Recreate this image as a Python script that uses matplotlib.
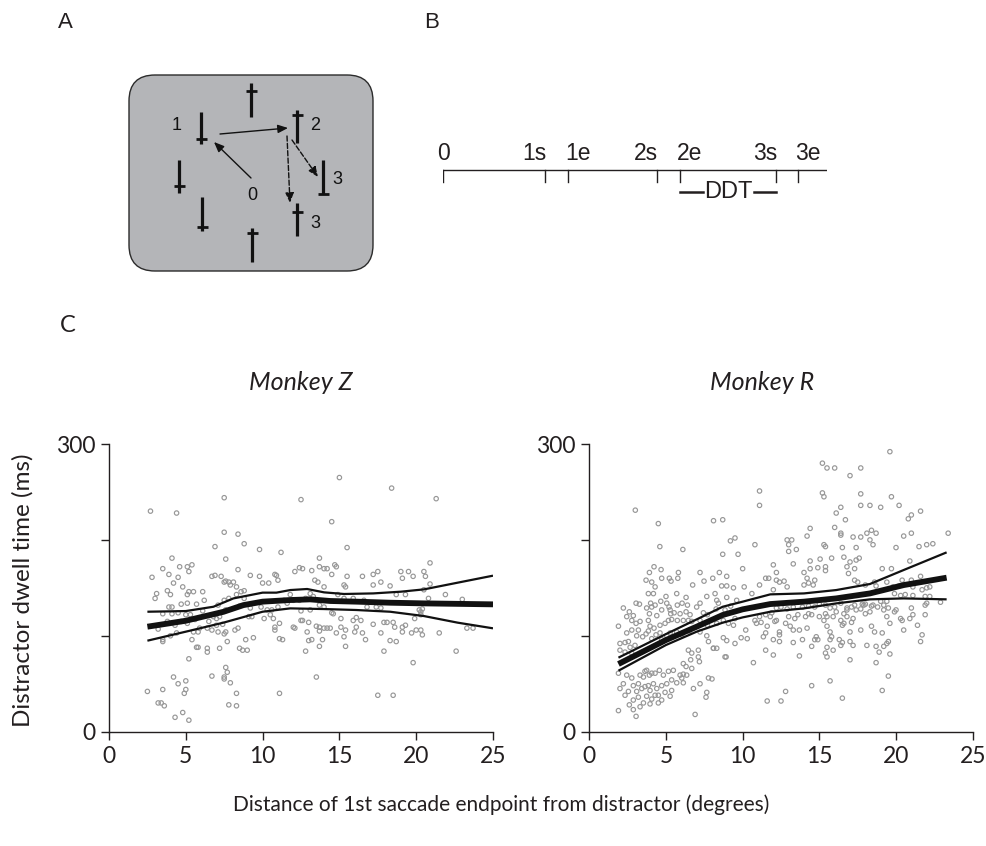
import matplotlib
matplotlib.use("Agg")
import matplotlib.pyplot as plt
from matplotlib.patches import FancyBboxPatch
import numpy as np

# ---------------- data ----------------
# Monkey Z: (distance deg, dwell ms)
monkey_z_points = [
    (2.7,230),(4.4,228),(7.5,244),(12.5,242),(15.0,265),(18.4,254),(21.3,243),(14.5,219),
    (7.5,208),(8.4,206),(8.8,196),(6.9,193),(9.8,190),(11.2,187),(15.5,192),(4.1,181),(7.6,180),(13.7,181),
    (3.5,170),(3.9,164),(2.8,161),(4.2,155),(4.5,161),(4.6,172),(5.2,167),(5.4,174),(5.1,172),(4.8,151),
    (5.2,146),(5.1,143),(5.5,146),(6.1,146),(3.8,147),(4.0,143),(3.0,139),(3.1,144),(4.1,130),(3.9,130),
    (4.7,133),(5.1,134),(5.7,133),(6.2,137),(3.5,123),(4.1,123),(4.5,124),(5.0,122),(5.3,122),(3.8,115),
    (4.3,111),(4.7,115),(5.1,113),(5.6,117),(6.1,126),(6.5,115),(6.8,120),(7.0,111),(7.2,120),(7.6,127),
    (7.8,156),(7.6,157),(7.9,153),(8.1,156),(8.3,151),(6.7,162),(6.9,163),(7.3,162),(7.5,156),(8.4,169),
    (8.6,146),(8.8,147),(9.2,163),(9.8,162),(10.0,155),(10.4,155),(10.8,164),(10.9,163),(11.0,158),(12.1,167),
    (12.4,171),(12.6,170),(13.2,168),(13.7,172),(14.0,170),(14.2,170),(14.5,164),(14.7,174),(14.8,172),(15.5,162),
    (16.5,162),(17.2,164),(17.5,167),(17.2,153),(17.7,156),(18.3,152),(19.0,167),(19.1,160),(19.5,167),(19.8,162),
    (20.5,167),(20.6,162),(20.9,176),(20.9,154),(21.9,143),(23.0,138),(20.5,148),(18.7,143),(19.3,143),(20.8,139),
    (20.2,127),(20.3,125),(16.8,130),(16.6,137),(15.9,139),(15.3,139),(14.9,143),(15.4,151),(15.3,153),(14.0,151),
    (13.6,156),(13.4,158),(13.1,144),(13.3,141),(12.8,139),(11.8,143),(12.0,137),(11.6,134),(11.0,130),(10.5,122),
    (10.7,118),(10.1,118),(9.9,130),(9.3,120),(9.1,120),(9.2,129),(8.8,139),(8.5,131),(8.3,143),(7.8,139),
    (7.5,137),(7.1,132),(7.0,118),(7.4,112),(7.6,104),(7.5,102),(7.1,104),(6.7,106),(6.4,108),(5.9,108),
    (5.8,104),(5.5,104),(4.4,103),(4.0,100),(3.5,96),(3.5,94),(3.2,107),(5.4,96),(5.7,88),(5.8,88),
    (6.4,87),(6.4,83),(7.2,87),(7.7,94),(8.2,106),(8.4,108),(8.7,85),(9.0,85),(8.5,87),(8.9,96),
    (9.4,98),(11.1,113),(11.1,97),(11.3,96),(10.8,106),(10.8,109),(12.0,109),(12.1,108),(12.5,116),(12.6,116),
    (13.0,114),(12.9,104),(13.0,95),(13.2,96),(12.8,84),(13.5,110),(13.7,109),(13.7,105),(13.7,89),(13.9,96),
    (14.0,108),(14.2,108),(14.4,108),(14.8,103),(15.1,109),(15.1,118),(15.4,106),(15.4,89),(15.3,99),(15.9,116),
    (16.1,109),(16.0,104),(16.4,116),(16.5,103),(16.7,96),(17.2,112),(17.4,130),(17.7,103),(17.9,114),(18.1,114),
    (18.3,95),(18.5,114),(18.6,109),(18.7,94),(19.1,109),(19.1,104),(19.3,111),(19.7,103),(20.0,106),(20.3,106),
    (20.4,101),(21.5,103),(22.6,84),(23.3,108),(23.7,108),(17.9,84),(19.8,72),(20.3,122),(19.9,118),(20.4,128),
    (17.7,129),(14.5,124),(14.6,123),(16.1,119),(14.0,130),(13.7,132),(13.1,127),(12.5,126),(10.6,127),(10.3,127),
    (11.4,137),(12.4,137),
    (2.5,42),(3.2,30),(3.4,30),(3.6,27),(3.5,44),(4.2,57),(4.5,50),(5.0,53),(5.0,44),(4.9,40),
    (4.3,15),(4.8,20),(5.2,12),(5.2,76),(6.7,58),(7.5,55),(7.5,57),(7.6,67),(7.7,62),(7.9,51),
    (8.3,40),(7.8,28),(8.3,27),(11.1,40),(13.5,57),(17.5,38),(18.5,38),
]

# Monkey R
monkey_r_points = [
    (3.0,231),(8.1,220),(8.7,221),(4.5,217),(9.5,202),(9.2,199),(4.6,193),(6.1,190),(8.7,185),(9.7,185),
    (15.2,280),(15.5,275),(16.0,275),(17.0,267),(17.7,275),(19.6,292),(11.1,251),(11.1,236),(15.2,249),(15.3,245),
    (17.7,248),(17.7,236),(18.3,236),(19.0,234),(19.7,245),(20.2,236),(21.6,230),(21.0,226),(20.8,222),(16.1,228),
    (16.4,234),(16.7,221),(14.4,212),(14.2,204),(16.0,213),(16.4,205),(16.4,207),(18.1,207),(18.4,210),(18.7,207),
    (18.3,200),(18.5,195),(17.2,203),(17.7,203),(17.4,192),(20.0,192),(20.5,204),(21.0,207),(21.5,193),(22.0,195),
    (22.4,196),(23.4,207),(12.9,200),(13.2,200),(13.0,195),(13.0,188),(13.5,190),(15.3,195),(15.4,193),(16.5,192),
    (14.4,178),(15.05,180),(15.4,172),(15.8,181),(13.3,175),(20.9,178),(12.0,174),
    (10.0,170),(10.1,151),(10.8,195),(10.6,144),(10.7,72),(10.2,106),(10.3,97),(9.9,98),(11.1,153),(11.5,160),
    (11.7,160),(12.2,166),(12.0,148),(12.2,158),(12.4,156),(12.7,157),(12.9,151),(14.0,166),(14.0,153),(14.2,160),
    (14.3,155),(14.4,170),(14.6,153),(14.7,158),(14.9,171),(15.4,168),(16.6,182),(16.8,172),(16.9,165),(17.0,177),
    (17.3,170),(17.4,179),(17.6,181),(17.3,158),(17.5,156),(18.0,153),(18.6,156),(18.7,152),(19.1,170),(19.7,170),
    (19.4,156),(19.8,151),(20.2,152),(20.4,158),(21.0,158),(21.1,151),(21.6,162),(21.7,148),(22.0,150),(22.2,151),
    (21.1,142),(21.9,141),(20.6,143),(20.3,142),(19.9,144),(19.4,136),(19.2,132),(19.0,136),(18.4,131),(18.0,133),
    (17.8,133),(17.3,132),(17.1,130),(16.8,129),(16.4,134),(16.0,130),(15.7,129),(15.4,132),(15.0,133),(14.7,130),
    (14.3,131),(13.9,130),(13.3,130),(12.9,128),(12.5,130),(12.2,129),(11.9,124),(11.8,120),(11.5,122),(11.1,120),
    (10.8,116),(10.9,113),(11.2,114),(11.6,110),(11.35,99),(11.5,103),(12.0,96),(12.1,115),(12.2,116),(12.4,104),
    (12.4,94),(12.8,113),(13.0,120),(13.1,110),(13.3,106),(13.4,118),(13.6,122),(13.7,106),(14.1,120),(14.2,108),
    (14.3,123),(14.5,122),(14.5,89),(14.7,96),(14.9,96),(15.0,120),(15.3,116),(15.4,123),(15.5,120),(15.5,110),
    (15.7,96),(15.8,99),(15.7,104),(15.9,120),(16.1,125),(16.4,116),(16.5,111),(16.6,113),(16.6,123),(16.8,127),
    (17.0,104),(16.8,120),(17.1,114),(17.2,118),(17.4,127),(17.7,128),(17.9,132),(18.0,123),(18.3,125),(18.4,110),
    (18.5,132),(18.6,104),(18.8,130),(19.2,127),(19.4,120),(19.6,113),(19.5,129),(19.9,125),(20.0,127),(20.3,118),
    (20.4,116),(20.5,106),(20.9,118),(21.0,129),(21.1,122),(21.4,111),(21.7,101),(21.6,94),(21.9,122),(22.0,134),
    (22.2,141),(22.9,135),(21.9,132),(18.7,89),(18.9,83),(19.2,89),(19.4,92),(19.5,94),(19.6,81),(19.1,103),
    (18.1,90),(17.2,90),(17.0,94),(16.5,93),(16.4,90),(15.9,85),(15.4,82),(15.5,78),(14.8,99),(13.9,96),
    (13.3,93),(11.5,85),(12.0,80),(13.7,79),(12.4,101),(15.5,88),(16.3,96),(17.7,106),(17.0,75),(18.7,72),
    (19.5,58),(19.1,43),(16.5,35),(15.7,53),(14.5,48),(12.8,42),(12.5,32),(11.6,32),
    (4.22,172),(4.68,169),(3.92,166),(5.81,166),(7.22,166),(8.48,166),(8.96,162),(3.7,158),(4.07,156),(4.72,160),
    (5.22,160),(5.33,157),(5.77,160),(6.74,153),(7.48,157),(8.05,160),(8.63,152),(8.96,152),(9.4,150),(4.29,151),
    (3.85,144),(4.18,144),(5.7,144),(5.0,141),(6.31,140),(7.66,141),(8.2,144),(8.96,140),(9.61,137),(3.05,134),
    (3.27,133),(4.0,134),(4.29,132),(4.07,130),(4.66,136),(5.05,134),(5.2,130),(5.74,132),(6.05,134),(6.4,132),
    (7.22,134),(8.42,134),(8.31,137),(9.22,131),(2.22,129),(2.61,125),(2.87,121),(2.77,116),(2.44,120),(3.74,129),
    (3.92,123),(4.4,121),(4.72,127),(5.27,127),(5.31,123),(5.53,124),(5.92,123),(6.31,125),(6.57,122),(7.0,130),
    (7.44,124),(7.7,122),(8.27,128),(8.85,127),(9.5,118),(1.9,110),(2.44,103),(2.77,106),(3.05,113),(3.2,106),
    (3.31,115),(3.85,116),(3.96,110),(4.22,108),(4.61,111),(4.94,113),(5.16,116),(5.37,117),(5.74,116),(6.13,116),
    (6.46,116),(6.68,115),(7.22,116),(7.7,111),(8.31,113),(8.74,116),(9.07,113),(9.4,111),(2.0,92),(2.33,93),
    (2.55,94),(2.66,88),(2.98,90),(3.09,100),(3.48,99),(3.7,102),(3.85,105),(4.07,97),(4.35,101),(4.61,103),
    (4.72,96),(5.05,100),(5.27,103),(5.7,104),(6.03,101),(6.53,105),(7.22,104),(7.66,100),(7.77,94),(8.74,98),
    (8.96,95),(9.5,92),(2.0,85),(2.33,83),(2.77,82),(6.46,85),(6.68,82),(7.11,85),(8.09,87),(8.31,87),
    (8.92,78),(6.61,75),(7.11,78),(7.18,73),(6.13,71),(6.31,68),(1.9,61),(2.44,59),(2.77,56),(2.22,50),
    (2.0,45),(2.33,38),(2.55,42),(2.87,48),(3.2,50),(3.31,59),(3.53,57),(3.63,63),(3.74,64),(3.92,59),
    (4.07,61),(4.29,61),(4.57,64),(4.83,59),(5.16,63),(5.48,64),(5.92,59),(6.13,60),(6.03,56),(6.35,59),
    (6.68,66),(3.09,42),(3.42,45),(3.63,47),(3.85,48),(3.96,43),(4.18,50),(4.4,45),(4.5,38),(4.72,48),
    (5.05,50),(5.37,54),(5.7,51),(6.13,51),(6.79,45),(7.22,50),(7.77,56),(3.74,37),(4.07,34),(4.29,38),
    (3.2,36),(2.87,33),(2.61,28),(2.87,23),(3.31,26),(3.53,30),(3.96,29),(4.5,30),(4.72,33),(5.27,37),
    (4.94,41),(5.37,43),(7.66,41),(7.61,36),(3.05,16),(1.9,22),(6.9,18),(8.0,55),(8.1,87),(8.85,78),
]

# Fitted curves (mean and bounds)
z_fit_x = [2.5, 5.0, 7.45, 8.75, 10.0, 11.8, 13.1, 14.4, 16.1, 18.3, 20.5, 25.0]
z_fit_mid = [109.5, 115.7, 125.0, 132.0, 135.6, 137.3, 138.0, 136.3, 135.6, 134.5, 133.8, 132.8]
z_up_x = [2.5, 5.0, 6.8, 8.1, 10.0, 10.9, 11.8, 12.9, 14.0, 15.3, 17.2, 19.0, 20.5, 22.7, 25.0]
z_up = [125.1, 125.8, 130.3, 139.0, 145.0, 145.0, 147.7, 148.8, 145.3, 143.6, 144.2, 146.0, 148.4, 155.4, 162.7]
z_lo_x = [2.5, 5.0, 7.45, 10.0, 11.8, 14.0, 16.1, 18.3, 20.5, 22.7, 25.0]
z_lo = [94.9, 104.3, 113.7, 125.1, 128.6, 127.9, 126.9, 125.1, 120.6, 113.7, 107.8]

r_fit_x = [1.9, 5.0, 7.0, 8.7, 10.0, 11.8, 14.0, 16.1, 18.3, 20.5, 23.3]
r_fit_mid = [70.6, 95.6, 109.5, 121.7, 127.6, 133.1, 135.6, 139.0, 144.2, 152.9, 160.6]
r_up = [77.2, 101.8, 117.1, 130.3, 135.6, 143.2, 144.2, 147.7, 154.0, 168.6, 187.0]
r_lo = [63.6, 90.4, 104.3, 113.7, 119.2, 125.1, 128.6, 133.8, 138.0, 139.0, 138.0]

x_ticks = [0, 5, 10, 15, 20, 25]
y_ticks = [0, 100, 200, 300]
y_ticklabels = ["0", "", "", "300"]

# Panel B timeline
event_labels = ["0", "1s", "1e", "2s", "2e", "3s", "3e"]
event_times = [0, 102, 125, 214, 237, 333, 355]
timeline_end = 384

# ---------------- figure ----------------
W, H = 986, 846
fig = plt.figure(figsize=(W / 100, H / 100), dpi=100)
AX_FONT = ["Lato", "DejaVu Sans"]
SCHEM_FONT = ["Liberation Sans", "DejaVu Sans"]
ink = "#231f20"

# overlay axes in pixel units for panel A/B schematics and labels
ov = fig.add_axes([0, 0, 1, 1])
ov.set_xlim(0, W)
ov.set_ylim(H, 0)
ov.axis("off")

# Panel letters
ov.text(65, 22, "A", fontsize=16, family=SCHEM_FONT, ha="center", va="center", color=ink)
ov.text(432, 22, "B", fontsize=16, family=SCHEM_FONT, ha="center", va="center", color=ink)
ov.text(68, 325, "C", fontsize=17, family=AX_FONT, ha="center", va="center", color=ink)

# Panel A: display
box = FancyBboxPatch((129, 75), 244, 196, boxstyle="round,pad=0,rounding_size=26",
                     facecolor="#b4b5b8", edgecolor="#2b2b2b", linewidth=1.0)
ov.add_patch(box)

# stimuli: (x, y_top, y_bottom, crossbar_y)
stimuli = [(201, 112, 144, 139), (251, 83, 117, 91), (297, 110, 143, 115), (179, 160, 193, 186),
           (323, 160, 194, 194), (202, 197, 231, 227), (297, 203, 236, 212), (252, 228, 262, 233)]
for sx, yt, yb, yc in stimuli:
    ov.plot([sx, sx], [yt, yb], color="#111111", lw=2.3, solid_capstyle="butt")
    ov.plot([sx - 5.5, sx + 5.5], [yc, yc], color="#111111", lw=2.0, solid_capstyle="butt")

for txt, tx, ty in [("1", 177, 125), ("2", 315, 125), ("3", 337, 180), ("3", 315, 223), ("0", 252, 195)]:
    ov.text(tx, ty, txt, fontsize=13, family=SCHEM_FONT, ha="center", va="center", color="#111111")

arrows = [((251, 178), (214, 142), "-"), ((220, 134), (288, 128), "-"),
          ((287, 136), (290, 203), "--"), ((292, 140), (318, 177), "--")]
for (x0, y0), (x1, y1), ls in arrows:
    ov.annotate("", xy=(x1, y1), xytext=(x0, y0),
                arrowprops=dict(arrowstyle="-|>,head_length=0.6,head_width=0.25", color="#111111",
                                lw=1.0, linestyle=ls, shrinkA=0, shrinkB=0))

# Panel B: timeline
tb = fig.add_axes([443 / W, 1 - 200 / H, (827 - 443) / W, 60 / H])
tb.set_xlim(0, timeline_end)
tb.set_ylim(-30, 30)
tb.axis("off")
tb.plot([0, timeline_end], [0, 0], color=ink, lw=1.0)
for lab, t in zip(event_labels, event_times):
    tb.plot([t, t], [0, -12.3], color=ink, lw=1.0)
    if lab == "0":
        ha, dx = "center", 0
    elif lab.endswith("s"):
        ha, dx = "right", 1
    else:
        ha, dx = "left", -3
    tb.text(t + dx, 5, lab, fontsize=16.5, family=SCHEM_FONT, ha=ha, va="bottom", color=ink)
# DDT bracket between 2e and 3s
i2e, i3s = event_times[4], event_times[5]
tb.plot([i2e, i2e + 23], [-22.5, -22.5], color=ink, lw=1.8)
tb.plot([i3s - 22, i3s], [-22.5, -22.5], color=ink, lw=1.8)
tb.text((i2e + i3s) / 2 + 0.5, -22.5, "DDT", fontsize=17, family=SCHEM_FONT, ha="center", va="center", color=ink)

# Panel C
def scatter_panel(rect, pts, fits):
    ax = fig.add_axes(rect)
    xs = [p[0] for p in pts]
    ys = [p[1] for p in pts]
    ax.scatter(xs, ys, s=10, facecolors="none", edgecolors="#979797", linewidths=0.85, zorder=2)
    for fx, fy, lw in fits:
        ax.plot(fx, fy, color="#111111", lw=lw, solid_capstyle="butt", zorder=3)
    ax.set_xlim(0, 25)
    ax.set_ylim(0, 300)
    ax.set_xticks(x_ticks)
    ax.set_xticklabels([str(t) for t in x_ticks])
    ax.set_yticks(y_ticks)
    ax.set_yticklabels(y_ticklabels)
    for s in ["top", "right"]:
        ax.spines[s].set_visible(False)
    for s in ["left", "bottom"]:
        ax.spines[s].set_color(ink)
        ax.spines[s].set_linewidth(1.0)
    ax.tick_params(direction="out", length=6, width=1.0, color=ink, labelsize=16.5, labelcolor=ink, pad=4)
    for lab in ax.get_xticklabels() + ax.get_yticklabels():
        lab.set_family(AX_FONT)
    ax.patch.set_alpha(0)
    return ax

scatter_panel([109 / W, 1 - 731.7 / H, (493 - 109) / W, (731.7 - 444) / H], monkey_z_points,
              [(z_up_x, z_up, 1.6), (z_lo_x, z_lo, 1.6), (z_fit_x, z_fit_mid, 4.2)])
scatter_panel([589.3 / W, 1 - 731.7 / H, (972.7 - 589.3) / W, (731.7 - 444) / H], monkey_r_points,
              [(r_fit_x, r_up, 1.6), (r_fit_x, r_lo, 1.6), (r_fit_x, r_fit_mid, 4.2)])

fig.text(301 / W, 1 - 383 / H, "Monkey Z", fontsize=18, style="italic", family=AX_FONT,
         ha="center", va="center", color=ink)
fig.text(762 / W, 1 - 383 / H, "Monkey R", fontsize=18, style="italic", family=AX_FONT,
         ha="center", va="center", color=ink)
fig.text(23 / W, 1 - 590 / H, "Distractor dwell time (ms)", fontsize=17.5, family=AX_FONT,
         rotation=90, ha="center", va="center", color=ink)
fig.text(501 / W, 1 - 805 / H, "Distance of 1st saccade endpoint from distractor (degrees)", fontsize=15,
         family=AX_FONT, ha="center", va="center", color=ink)

fig.savefig("out.png", dpi=100, facecolor="white")
